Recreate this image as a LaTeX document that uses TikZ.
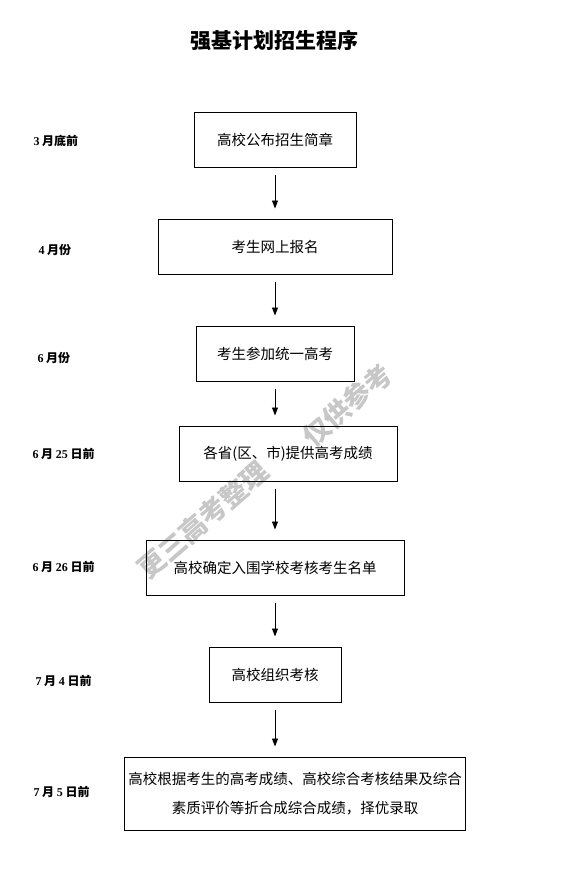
\documentclass[tikz,border=0pt]{standalone}
\usepackage{fontspec}
\setmainfont{Liberation Serif}
\newfontfamily\cjk{Noto Sans CJK SC}
\usetikzlibrary{arrows.meta}
\newcommand{\dg}[1]{{\rmfamily\bfseries #1}}
\tikzset{
  every picture/.style={line width=1pt},
  stage/.style={draw, rectangle, align=center, minimum height=55pt, inner sep=4pt, font=\cjk\fontsize{14.5}{29}\selectfont},
  when/.style={anchor=west, inner sep=0pt, font=\cjk\bfseries\fontsize{12}{14}\selectfont},
  arrow/.style={-{Triangle[length=8pt, width=6pt]}, line width=0.9pt, shorten <=7pt, shorten >=10pt},
  title/.style={font=\cjk\bfseries\fontsize{21}{24}\selectfont},
  wmark/.style={font=\cjk\bfseries\fontsize{27}{30}\selectfont, text=black!22, rotate=41},
}

\begin{document}
\begin{tikzpicture}[x=1pt, y=-1pt]
  \useasboundingbox (0,0) rectangle (576,870);
  % watermark
  \node[wmark] (wm1) at (203,520) {更三高考整理};
  \node[wmark] (wm2) at (347,405) {仅供参考};
  \node[title] (title) at (274,41) {强基计划招生程序};
  % stages
  \foreach \n/\x/\y/\w/\t in {s1/275/139.5/162/高校公布招生简章, s2/275/246.5/234/考生网上报名,
    s3/275/353.5/158/考生参加统一高考, s4/288/453.5/218/各省(区、市)提供高考成绩,
    s5/275/567.5/258/高校确定入围学校考核考生名单, s6/275/674.5/132/高校组织考核}
    \node[stage, minimum width=\w pt] (\n) at (\x,\y) {\t};
  \node[stage, minimum width=340pt, minimum height=73pt] (s7) at (295,793.5)
    {高校根据考生的高考成绩、高校综合考核结果及综合\\素质评价等折合成综合成绩，择优录取};
  % dates
  \foreach \t/\x/\y [count=\i] in {{\dg{3} 月底前}/33/141, {\dg{4} 月份}/38/250, {\dg{6} 月份}/37/358,
    {\dg{6} 月 \dg{25} 日前}/32/454, {\dg{6} 月 \dg{26} 日前}/32/567,
    {\dg{7} 月 \dg{4} 日前}/35/681, {\dg{7} 月 \dg{5} 日前}/33/792}
    \node[when] (t\i) at (\x,\y) {\t};
  % arrows
  \draw[arrow] (s1) -- (s2);
  \draw[arrow] (s2) -- (s3);
  \draw[arrow] (s3) -- (s3 |- s4.north);
  \draw[arrow] (s5 |- s4.south) -- (s5);
  \draw[arrow] (s5) -- (s6);
  \draw[arrow] (s6) -- (s6 |- s7.north);
\end{tikzpicture}
\end{document}
